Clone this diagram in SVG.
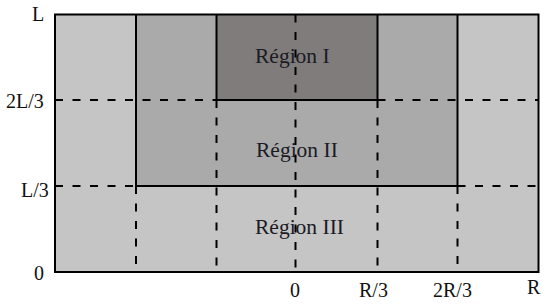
<svg xmlns="http://www.w3.org/2000/svg" width="550" height="304" viewBox="0 0 550 304">
<style>
.light{fill:#c5c5c5}
.mid{fill:#aaaaaa}
.dark{fill:#807c7b}
.solid{stroke:#000;stroke-width:2;fill:none}
.dash{stroke:#000;stroke-width:2;fill:none;stroke-dasharray:8 9.5}
.lbl{font-family:"Liberation Serif","Times New Roman",serif;font-size:20px;fill:#111}
.reg{font-family:"Liberation Serif","Times New Roman",serif;font-size:21.5px;fill:#1a1a24}
</style>
<rect x="0" y="0" width="550" height="304" fill="#fff"/>
<g id="background">
<rect class="light" x="55" y="14.5" width="483.5" height="257.5"/>
</g>
<g id="region-II">
<path class="mid" d="M136,14.5 H457.5 V186 H136 Z"/>
<text class="reg" x="256" y="157">Région II</text>
</g>
<g id="region-I">
<rect class="dark" x="216.5" y="14.5" width="161" height="85.5"/>
<text class="reg" x="255" y="62.5">Région I</text>
</g>
<g id="region-III">
<text class="reg" x="255" y="234">Région III</text>
</g>
<g id="connectors">
<!-- dashed grid -->
<line class="dash" x1="55" y1="100" x2="216.5" y2="100"/>
<line class="dash" x1="377.5" y1="100" x2="538.5" y2="100"/>
<line class="dash" x1="55" y1="186" x2="136" y2="186"/>
<line class="dash" x1="457.5" y1="186" x2="538.5" y2="186"/>
<line class="dash" x1="136" y1="186" x2="136" y2="272"/>
<line class="dash" x1="216.5" y1="100" x2="216.5" y2="272"/>
<line class="dash" x1="295.5" y1="14.5" x2="295.5" y2="272"/>
<line class="dash" x1="377.5" y1="100" x2="377.5" y2="272"/>
<line class="dash" x1="457.5" y1="186" x2="457.5" y2="272"/>
<!-- solid boundaries -->
<line class="solid" x1="136" y1="14.5" x2="136" y2="186"/>
<line class="solid" x1="457.5" y1="14.5" x2="457.5" y2="186"/>
<line class="solid" x1="216.5" y1="14.5" x2="216.5" y2="100"/>
<line class="solid" x1="377.5" y1="14.5" x2="377.5" y2="100"/>
<line class="solid" x1="216.5" y1="100" x2="377.5" y2="100"/>
<line class="solid" x1="136" y1="186" x2="457.5" y2="186"/>
<rect class="solid" x="55" y="14.5" width="483.5" height="257.5"/>
</g>
<g id="axis-labels">
<text class="lbl" x="32" y="21">L</text>
<text class="lbl" x="6" y="108">2L/3</text>
<text class="lbl" x="21" y="197">L/3</text>
<text class="lbl" x="34" y="280">0</text>
<text class="lbl" x="290" y="297">0</text>
<text class="lbl" x="359" y="297">R/3</text>
<text class="lbl" x="433" y="297">2R/3</text>
<text class="lbl" x="527" y="294">R</text>
</g>
</svg>
